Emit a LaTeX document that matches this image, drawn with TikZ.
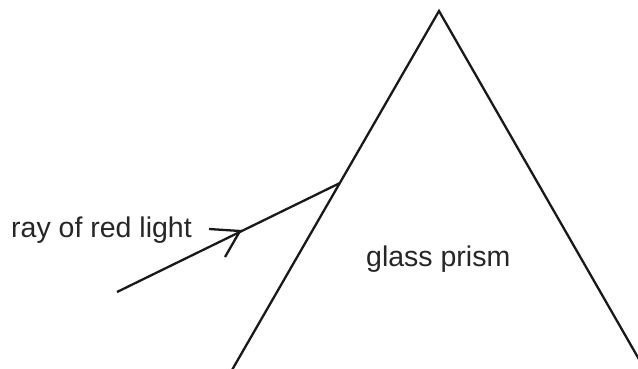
\documentclass[tikz,border=0pt]{standalone}
\usepackage{fontspec}
\setmainfont{Liberation Sans}
\begin{document}
\begin{tikzpicture}[x=1pt,y=-1pt,
  ln/.style={line width=2.3pt, color=black!90, line cap=butt, line join=miter},
  lbl/.style={font=\fontsize{28.5}{31}\selectfont, inner sep=0pt, anchor=base west, color=black!85}]
\useasboundingbox (0,0) rectangle (638,369);
\coordinate (apex) at (439,11);
\coordinate (bl) at (232,370);
\coordinate (br) at (640,361);
\coordinate (rs) at (117,292);
\coordinate (hit) at (340,183);
\coordinate (tip) at (240,231);
\coordinate (barbup) at (209,229);
\coordinate (barbdn) at (225,257);
\draw[ln] (bl) -- (apex) -- (br);
\draw[ln] (rs) -- (hit);
\draw[ln] (barbup) -- (tip) -- (barbdn);
\node[lbl] (ray) at (11,237) {ray of red light};
\node[lbl] (glass) at (366,266) {glass prism};
\end{tikzpicture}
\end{document}
